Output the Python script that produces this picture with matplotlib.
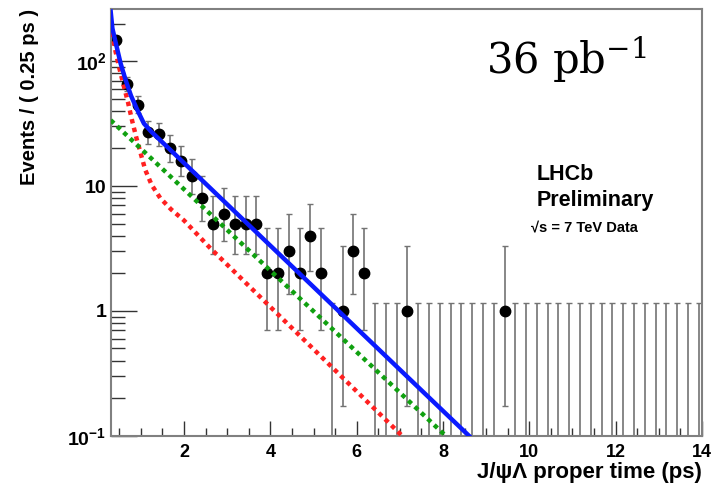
import matplotlib
matplotlib.use("Agg")
import matplotlib.pyplot as plt
import numpy as np
from matplotlib.ticker import FixedLocator, FixedFormatter, NullFormatter

plt.rcParams['font.family'] = ['Liberation Sans', 'DejaVu Sans']
plt.rcParams['mathtext.fontset'] = 'custom'
plt.rcParams['mathtext.rm'] = 'Liberation Sans:bold'
plt.rcParams['mathtext.bf'] = 'Liberation Sans:bold'
plt.rcParams['mathtext.it'] = 'Liberation Sans:bold'

# bin centres (0.25 ps bins starting at 0.3 ps)
bin_centres = [0.425, 0.675, 0.925, 1.175, 1.425, 1.675, 1.925, 2.175, 2.425, 2.675,
               2.925, 3.175, 3.425, 3.675, 3.925, 4.175, 4.425, 4.675, 4.925, 5.175,
               5.425, 5.675, 5.925, 6.175, 6.425, 6.675, 6.925, 7.175, 7.425, 7.675,
               7.925, 8.175, 8.425, 8.675, 8.925, 9.175, 9.425, 9.675, 9.925, 10.175,
               10.425, 10.675, 10.925, 11.175, 11.425, 11.675, 11.925, 12.175, 12.425, 12.675,
               12.925, 13.175, 13.425, 13.675, 13.925]
counts = [147, 66, 45, 27, 26, 20, 16, 12, 8, 5,
          6, 5, 5, 5, 2, 2, 3, 2, 4, 2,
          0, 1, 3, 2, 0, 0, 0, 1, 0, 0,
          0, 0, 0, 0, 0, 0, 1, 0, 0, 0,
          0, 0, 0, 0, 0, 0, 0, 0, 0, 0,
          0, 0, 0, 0, 0]

# asymmetric poisson errors per count (lower, upper)
poisson_err = {0: (0.0, 1.148), 1: (0.827, 2.299), 2: (1.292, 2.637), 3: (1.633, 2.918),
               4: (1.914, 3.162), 5: (2.159, 3.382), 6: (2.379, 3.583), 8: (2.768, 3.945),
               12: (3.415, 4.559), 16: (3.957, 5.083), 20: (4.434, 5.546), 26: (5.076, 6.171),
               27: (5.177, 6.270), 45: (6.683, 7.757), 66: (8.105, 9.171), 147: (12.11, 13.14)}

# fitted curves
total_t = [0.3, 0.34, 0.42, 0.53, 0.65, 0.77, 0.92, 1.07, 1.23, 8.6]
total_y = [250, 183, 139, 96, 70, 53, 40.5, 31.7, 27.5, 0.1]
long_t = [0.3, 8.06]
long_y = [33.7, 0.1]
prompt_t = [0.3, 0.4, 0.5, 0.6, 0.7, 0.8, 0.9, 1.0, 1.1, 1.25, 1.45, 1.7, 2.0, 2.6, 7.05]
prompt_y = [200, 125, 88, 64, 47, 33, 24, 18, 13.5, 10.2, 8.0, 6.5, 5.3, 3.2, 0.1]

fig = plt.figure(figsize=(7.16, 4.87), dpi=100)
ax = fig.add_axes([0.1546, 0.1053, 0.8258, 0.8762])

lo = [poisson_err[n][0] for n in counts]
hi = [poisson_err[n][1] for n in counts]
ax.errorbar(bin_centres, counts, yerr=[lo, hi], fmt='o', color='black', ms=7.5,
            ecolor='0.45', elinewidth=1.2, capsize=2.5, capthick=1, zorder=2)

ax.plot(prompt_t, prompt_y, color='#ff2020', lw=3.2, ls=(0, (1, 1)), zorder=3)
ax.plot(long_t, long_y, color='#10a010', lw=3.2, ls=(0, (1, 1)), zorder=3)
ax.plot(total_t, total_y, color='#0a1aff', lw=3.2, zorder=4)

ax.set_yscale('log')
ax.set_xlim(0.3, 14)
ax.set_ylim(0.1, 262)

ax.xaxis.set_major_locator(FixedLocator([2, 4, 6, 8, 10, 12, 14]))
ax.xaxis.set_minor_locator(FixedLocator(np.arange(0.5, 14, 0.5)))
ax.yaxis.set_major_locator(FixedLocator([0.1, 1, 10, 100]))
ax.yaxis.set_major_formatter(FixedFormatter([r'$10^{-1}$', '1', '10', r'$10^{2}$']))
ax.yaxis.set_minor_locator(FixedLocator([m * 10.0 ** d for d in range(-1, 3) for m in range(2, 10)]))
ax.yaxis.set_minor_formatter(NullFormatter())

ax.tick_params(axis='both', which='both', direction='in', color='0.2')
ax.tick_params(axis='x', which='major', length=11, width=1, pad=6, labelsize=13)
ax.tick_params(axis='x', which='minor', length=5.5, width=1)
ax.tick_params(axis='y', which='major', length=19, width=1, pad=3, labelsize=14)
ax.tick_params(axis='y', which='minor', length=10, width=1)
for lab in ax.get_xticklabels() + ax.get_yticklabels():
    lab.set_fontweight('bold')

for s in ax.spines.values():
    s.set_color('0.5')
    s.set_linewidth(1.5)

ax.set_ylabel('Events / ( 0.25 ps )', fontsize=14.5, fontweight='bold')
ax.yaxis.set_label_coords(-0.122, 1.0)
ax.yaxis.label.set_horizontalalignment('right')
ax.set_xlabel('J/ψΛ proper time (ps)', fontsize=16, fontweight='bold')
ax.xaxis.set_label_coords(1.0, -0.062)
ax.xaxis.label.set_horizontalalignment('right')

fig.text(0.679, 0.878, r'$36\ \mathrm{pb}^{-1}$', fontsize=30, math_fontfamily='dejavuserif',
         va='center', ha='left')
fig.text(0.749, 0.641, 'LHCb', fontsize=15.5, fontweight='bold', va='center')
fig.text(0.749, 0.589, 'Preliminary', fontsize=15.5, fontweight='bold', va='center')
fig.text(0.742, 0.532, '√s = 7 TeV Data', fontsize=10.5, fontweight='bold', va='center')

fig.savefig('out.png', dpi=100)
